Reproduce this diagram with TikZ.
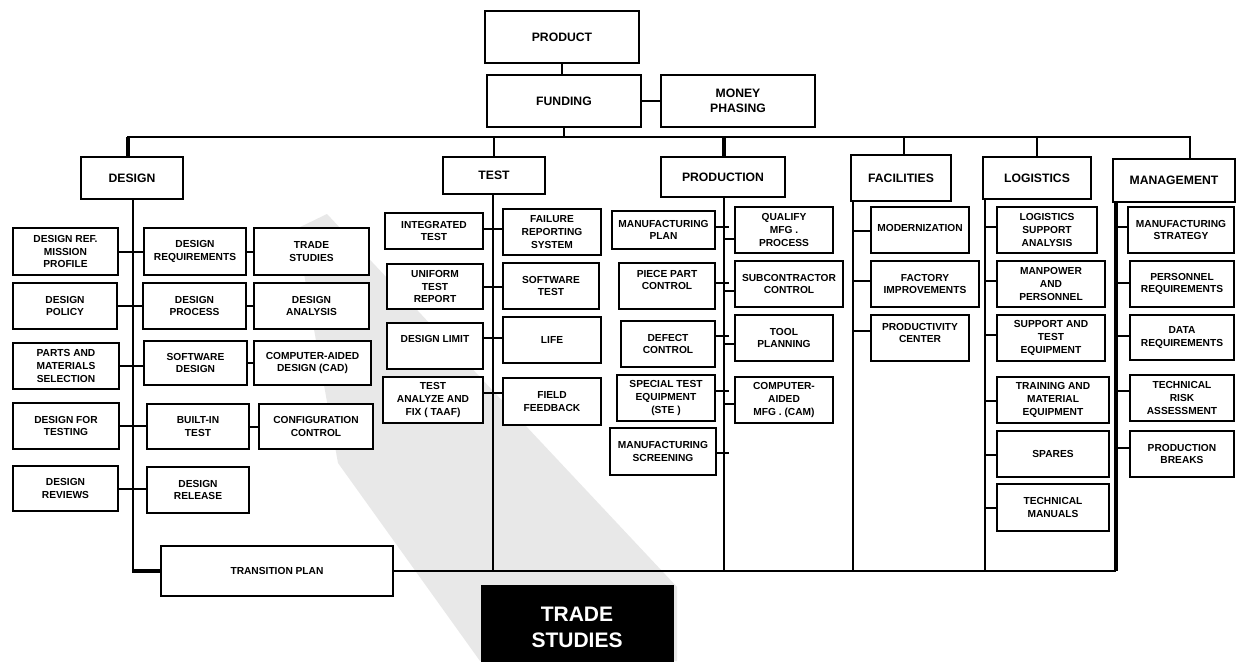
\documentclass[tikz,border=0pt]{standalone}
\usepackage{fontspec}
\setmainfont{Liberation Sans}
\usetikzlibrary{calc}
\tikzset{
  bx/.style={draw=black, fill=white, line width=2pt, inner sep=0pt, outer sep=0pt, align=center,
     font=\fontsize{10.2}{12.8}\selectfont\bfseries},
  hd/.style={bx, font=\fontsize{12.2}{15}\selectfont\bfseries},
  lb/.style={align=center, inner sep=0pt, font=\fontsize{10.2}{12.8}\selectfont\bfseries},
  ln/.style={line width=2pt},
  thk/.style={line width=3.6pt},
  bigbox/.style={fill=black, draw=black, inner sep=0pt, align=center, text=white,
     font=\fontsize{21}{26}\selectfont\bfseries},
  wedge/.style={fill=black!9, draw=none}
}
\newcommand\B[7][bx]{%
  \pgfmathsetmacro\cx{(#3+#5)/2}\pgfmathsetmacro\cy{(#4+#6)/2}%
  \pgfmathsetmacro\ww{#5-#3}\pgfmathsetmacro\hh{#6-#4}%
  \node[#1, minimum width=\ww pt, minimum height=\hh pt] (#2) at (\cx,\cy) {#7};}
\begin{document}
\begin{tikzpicture}[x=1pt,y=-1pt]
\useasboundingbox (0,0) rectangle (1236,661);
\fill[white] (0,0) rectangle (1236,661);
% grey spotlight
\fill[wedge] (327,214) -- (677,587) -- (677,661) -- (480,661) -- (338,463) -- (296,229) -- cycle;
% top level
\B[hd]{product}{485}{11}{639}{63}{PRODUCT}
\B[hd]{funding}{487}{75}{641}{127}{FUNDING}
\B[hd]{money}{661}{75}{815}{127}{MONEY\\PHASING}
\B[hd]{design}{81}{157}{183}{199}{DESIGN}
\B[hd]{test}{443}{157}{545}{194}{TEST}
\B[hd]{production}{661}{157}{785}{197}{PRODUCTION}
\B[hd]{facilities}{851}{155}{951}{201}{FACILITIES}
\B[hd]{logistics}{983}{157}{1091}{199}{LOGISTICS}
\B[hd]{management}{1113}{159}{1235}{202}{MANAGEMENT}
% bus coordinates
\coordinate (busL) at (128,137);
\coordinate (busR) at (1190,137);
\coordinate (fdrop) at (904,137);
\coordinate (dv) at (133,571);
\coordinate (tv) at (493,571);
\coordinate (pv) at (724,571);
\coordinate (fv) at (853,571);
\coordinate (lv) at (985,571);
\coordinate (mv) at (1116,571);
% design column
\B{dref}{13}{228}{118}{275}{DESIGN REF.\\MISSION\\PROFILE}
\B{dreq}{144}{228}{246}{275}{DESIGN\\REQUIREMENTS}
\B{trade}{254}{228}{369}{275}{TRADE\\STUDIES}
\B{dpol}{13}{283}{117}{329}{DESIGN\\POLICY}
\B{dproc}{143}{283}{246}{329}{DESIGN\\PROCESS}
\B{danal}{254}{283}{369}{329}{DESIGN\\ANALYSIS}
\B{parts}{13}{343}{119}{389}{PARTS AND\\MATERIALS\\SELECTION}
\B{swd}{144}{341}{247}{385}{SOFTWARE\\DESIGN}
\B{cad}{254}{341}{371}{385}{COMPUTER-AIDED\\DESIGN (CAD)}
\B{dft}{13}{403}{119}{449}{DESIGN FOR\\TESTING}
\B{bit}{147}{404}{249}{449}{BUILT-IN\\TEST}
\B{config}{259}{404}{373}{449}{CONFIGURATION\\CONTROL}
\B{drev}{13}{466}{118}{511}{DESIGN\\REVIEWS}
\B{drel}{147}{467}{249}{513}{DESIGN\\RELEASE}
\B{transition}{161}{546}{393}{596}{TRANSITION PLAN}
% test column
\B{integ}{385}{213}{483}{249}{INTEGRATED\\TEST}
\B{frs}{503}{209}{601}{255}{FAILURE\\REPORTING\\SYSTEM}
\B{utr}{387}{264}{483}{309}{UNIFORM\\TEST\\REPORT}
\B{swt}{503}{263}{599}{309}{SOFTWARE\\TEST}
\B{dlim}{387}{323}{483}{369}{}
\node[lb] (dlimt) at (435,339) {DESIGN LIMIT};
\B{life}{503}{317}{601}{363}{LIFE}
\B{taaf}{383}{377}{483}{423}{TEST\\ANALYZE AND\\FIX ( TAAF)}
\B{field}{503}{378}{601}{425}{FIELD\\FEEDBACK}
% production column
\B{mplan}{612}{211}{715}{249}{MANUFACTURING\\PLAN}
\B{qual}{735}{207}{833}{253}{QUALIFY\\MFG .\\PROCESS}
\B{ppc}{619}{263}{715}{309}{}
\node[lb] (ppct) at (667,280) {PIECE PART\\CONTROL};
\B{sub}{735}{261}{843}{307}{SUBCONTRACTOR\\CONTROL}
\B{defect}{621}{321}{715}{367}{DEFECT\\CONTROL}
\B{tool}{735}{315}{833}{361}{TOOL\\PLANNING}
\B{ste}{617}{375}{715}{421}{SPECIAL TEST\\EQUIPMENT\\(STE )}
\B{cam}{735}{377}{833}{423}{COMPUTER-\\AIDED\\MFG . (CAM)}
\B{screen}{610}{428}{716}{475}{MANUFACTURING\\SCREENING}
% facilities column
\B{modern}{871}{207}{969}{253}{}
\node[lb] (modernt) at (920,228) {MODERNIZATION};
\B{factory}{871}{261}{979}{307}{FACTORY\\IMPROVEMENTS}
\B{prodc}{871}{315}{969}{361}{}
\node[lb] (prodct) at (920,333) {PRODUCTIVITY\\CENTER};
% logistics column
\B{lsa}{997}{207}{1097}{253}{LOGISTICS\\SUPPORT\\ANALYSIS}
\B{manp}{997}{261}{1105}{307}{MANPOWER\\AND\\PERSONNEL}
\B{supp}{997}{315}{1105}{361}{SUPPORT AND\\TEST\\EQUIPMENT}
\B{train}{997}{377}{1109}{423}{TRAINING AND\\MATERIAL\\EQUIPMENT}
\B{spares}{997}{431}{1109}{477}{SPARES}
\B{tman}{997}{484}{1109}{531}{TECHNICAL\\MANUALS}
% management column
\B{mstrat}{1128}{207}{1234}{253}{MANUFACTURING\\STRATEGY}
\B{preq}{1130}{261}{1234}{307}{PERSONNEL\\REQUIREMENTS}
\B{datareq}{1130}{315}{1234}{360}{DATA\\REQUIREMENTS}
\B{risk}{1130}{375}{1234}{421}{TECHNICAL\\RISK\\ASSESSMENT}
\B{pbreak}{1130}{431}{1234}{477}{PRODUCTION\\BREAKS}
% big box
\B[bigbox]{bigtrade}{481}{585}{673}{665}{}
\node[bigbox, fill=none, draw=none] (bigtradet) at (577,627) {TRADE\\STUDIES};
% ---- connectors ----
\draw[ln] (product.south) -- (product.south |- funding.north);
\draw[ln] (funding.east) -- (money.west);
\draw[ln] (funding.south) -- (funding.south |- busL);
\draw[ln, line cap=rect] (busL) -- (busR);
\draw[thk] (busL) -- (busL |- design.north);
\draw[ln] (test.north) -- (test.north |- busL);
\draw[thk] (pv |- production.north) -- (pv |- busL);
\draw[ln] (fdrop |- facilities.north) -- (fdrop);
\draw[ln] (logistics.north) -- (logistics.north |- busL);
\draw[ln] (busR) -- (busR |- management.north);
% design (yshift is upward on the canvas)
\draw[ln] (dv |- design.south) -- (dv);
\draw[thk] ([xshift=-1pt]dv) -- (dv -| transition.west);
\draw[ln] (transition.east) -- (mv);
\draw[ln] (dref.east) -- (dref.east -| dreq.west);
\draw[ln] (dreq.east) -- (dreq.east -| trade.west);
\draw[ln] (dpol.east) -- (dpol.east -| dproc.west);
\draw[ln] (dproc.east) -- (dproc.east -| danal.west);
\draw[ln] (parts.east) -- (parts.east -| swd.west);
\draw[ln] (swd.east) -- (swd.east -| cad.west);
\draw[ln] (dft.east) -- (dft.east -| bit.west);
\draw[ln] (bit.east) -- (bit.east -| config.west);
\draw[ln] (drev.east) -- (drev.east -| drel.west);
% test
\draw[ln] (tv |- test.south) -- (tv);
\draw[ln] ([yshift=2pt]integ.east) -- ([yshift=2pt]integ.east -| frs.west);
\draw[ln] (utr.east) -- (utr.east -| swt.west);
\draw[ln] ([yshift=8pt]dlim.east) -- ([yshift=8pt]dlim.east -| life.west);
\draw[ln] ([yshift=7pt]taaf.east) -- ([yshift=7pt]taaf.east -| field.west);
% production
\draw[ln] (pv |- production.south) -- (pv);
\foreach \n/\s in {mplan/3, ppc/3, defect/8, ste/7, screen/-1}{
  \draw[ln] ([yshift=\s pt]\n.east) -- ([yshift=\s pt, xshift=5pt]\n.east -| pv);
}
\foreach \n/\s in {qual/-9, sub/-7, tool/-6, cam/-4}{
  \draw[ln] ([yshift=\s pt]\n.west -| pv) -- ([yshift=\s pt]\n.west);
}
% facilities
\draw[ln] (fv |- facilities.south) -- (fv);
\foreach \n/\s in {modern/-1, factory/3, prodc/7}{
  \draw[ln] ([yshift=\s pt]\n.west -| fv) -- ([yshift=\s pt]\n.west);
}
% logistics
\draw[ln] (lv |- logistics.south) -- (lv);
\foreach \n/\s in {lsa/3, manp/3, supp/3, train/-1, spares/-1, tman/0}{
  \draw[ln] ([yshift=\s pt]\n.west -| lv) -- ([yshift=\s pt]\n.west);
}
% management
\draw[thk] (mv |- management.south) -- (mv);
\foreach \n/\s in {mstrat/3, preq/1, datareq/2, risk/7, pbreak/6}{
  \draw[ln] ([yshift=\s pt]\n.west -| mv) -- ([yshift=\s pt]\n.west);
}
\end{tikzpicture}
\end{document}
